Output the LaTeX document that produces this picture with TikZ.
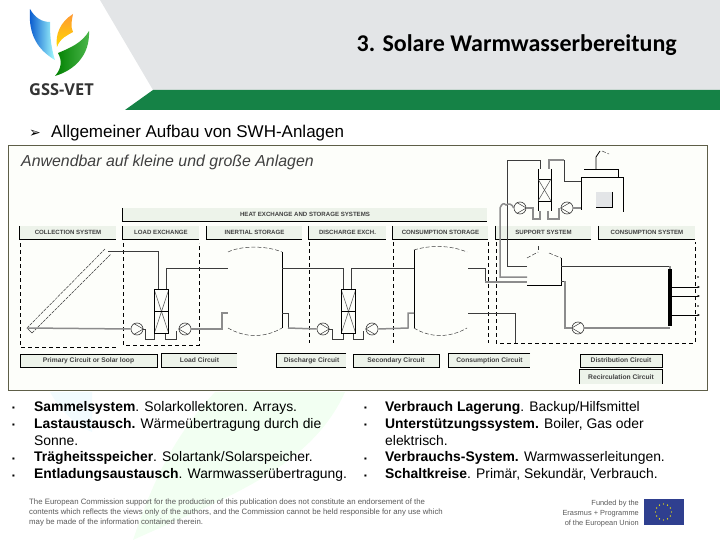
\documentclass[tikz,border=0pt]{standalone}
\usetikzlibrary{arrows.meta}
\usepackage{fontspec}
\setmainfont{Liberation Sans}
\newfontfamily\titlefont{Carlito}
\newfontfamily\logofont{Open Sans}
\newfontfamily\symfont{DejaVu Sans}
\definecolor{headgray}{HTML}{E3E5E7}
\definecolor{headgreen}{HTML}{158246}
\definecolor{boxline}{HTML}{5E5E48}
\definecolor{boxfill}{HTML}{FDFEFA}
\definecolor{labelfill}{HTML}{EDF3EA}
\definecolor{pipedark}{HTML}{3C3C3C}
\definecolor{pipegray}{HTML}{8C8C8C}
\definecolor{euflag}{HTML}{2F3F8F}
\tikzset{
  head/.style={fill=labelfill, inner sep=0pt, minimum height=13pt, text=black!75,
    text height=5pt, text depth=1pt, font=\fontsize{6.1}{6}\selectfont\bfseries},
  circ/.style={head, font=\fontsize{6.7}{7}\selectfont\bfseries},
  foot/.style={circ, draw=black, line width=.7pt},
  pipe/.style={draw=pipedark, line width=1pt},
  pipeg/.style={draw=pipegray, line width=1.5pt},
  wall/.style={draw=black, line width=.8pt},
  dashline/.style={draw=black, line width=.9pt, dash pattern=on 4pt off 3pt},
  roof/.style={draw=pipedark, line width=.5pt, dash pattern=on 4pt off 2pt},
  pump/.style={circle, draw=pipedark, line width=.6pt, fill=boxfill, minimum size=12pt, inner sep=0pt},
  hx/.style={rectangle, minimum width=14pt, minimum height=43pt, inner sep=0pt},
  bul/.style={anchor=base west, inner sep=0pt, font=\fontsize{13.9}{14}\selectfont},
  small/.style={inner sep=0pt, text=black!65, font=\fontsize{7.8}{8}\selectfont},
  fund/.style={small, font=\fontsize{7.4}{8}\selectfont}
}
\begin{document}
\begin{tikzpicture}[x=1pt,y=-1pt]
  \useasboundingbox (0,0) rectangle (720,540);
  % header
  \fill[headgray] (100,0) -- (153,90) -- (720,90) -- (720,0) -- cycle;
  \fill[headgreen] (153,90) -- (125,110) -- (720,110) -- (720,90) -- cycle;
  \node[anchor=base east, inner sep=0pt, font=\titlefont\fontsize{24}{24}\selectfont\bfseries] (title) at (677,52) {3. Solare Warmwasserbereitung};
  % logo
  \shade[left color=blue!60!cyan!80!black, right color=cyan!35] (30,9) .. controls (28,35) and (38,50) .. (55,60) .. controls (50,45) and (50,30) .. (50,22) .. controls (42,22) and (35,18) .. (30,9);
  \shade[bottom color=yellow!70!orange, top color=orange!80] (73,14) .. controls (60,22) and (55,35) .. (57,47) .. controls (60,38) and (68,35) .. (73,32) .. controls (70,26) and (72,20) .. (73,14);
  \shade[left color=green!50!black, right color=green!60!black!70] (89,31) .. controls (82,43) and (70,48) .. (58,53) .. controls (62,60) and (62,68) .. (55,76) .. controls (75,70) and (90,55) .. (89,31);
  \node[anchor=base west, inner sep=0pt, font=\logofont\fontsize{16.4}{17}\selectfont\bfseries, text=black!80] (gss) at (29,96) {GSS-VET};
  % watermark
  \fill[green!5] (345,392) .. controls (310,470) and (220,500) .. (133,540) .. controls (150,490) and (170,440) .. (215,392) -- cycle;
  \fill[cyan!5] (50,392) .. controls (60,410) and (75,425) .. (92,432) -- (92,392) -- cycle;
  % heading
  \node[anchor=base west, inner sep=0pt, font=\symfont\fontsize{14}{14}\selectfont] (arrow) at (29,138) {➢};
  \node[anchor=base west, inner sep=0pt, font=\fontsize{17}{17}\selectfont] (heading) at (51,138) {Allgemeiner Aufbau von SWH-Anlagen};
  % frame
  \node[draw=boxline, line width=.9pt, fill=boxfill, minimum width=699pt, minimum height=245pt, inner sep=0pt] (frame) at (357.5,267.5) {};
  \node[anchor=base west, inner sep=0pt, text=black!75, font=\fontsize{15.9}{16}\selectfont\itshape] (subhead) at (21,166.5) {Anwendbar auf kleine und große Anlagen};
  % labels over the columns
  \node[head, minimum width=364pt] (band) at (305,214.5) {HEAT EXCHANGE AND STORAGE SYSTEMS};
  \node[head, minimum width=96pt] (collect) at (68,232.5) {COLLECTION SYSTEM};
  \node[head, minimum width=76pt] (loadex) at (161,232.5) {LOAD EXCHANGE};
  \node[head, minimum width=95pt] (inert) at (254.5,232.5) {INERTIAL STORAGE};
  \node[head, minimum width=77pt] (dischex) at (347.5,232.5) {DISCHARGE EXCH.};
  \node[head, minimum width=95pt] (consstor) at (440.5,232.5) {CONSUMPTION STORAGE};
  \node[head, minimum width=95pt] (support) at (543.5,232.5) {SUPPORT SYSTEM};
  \node[head, minimum width=96pt] (conssys) at (647,232.5) {CONSUMPTION SYSTEM};
  \foreach \n in {band,collect,loadex,inert,dischex,consstor,support,conssys}
    \draw[wall] (\n.north west) -- (\n.south west) -- (\n.south east);
  % circuit labels
  \node[foot, minimum width=137pt] (primary) at (88.5,360.5) {Primary Circuit or Solar loop};
  \node[circ, minimum width=75pt] (loadc) at (199.5,360.5) {Load Circuit};
  \node[circ, minimum width=69pt] (dischc) at (311.5,360.5) {Discharge Circuit};
  \node[foot, minimum width=86pt] (second) at (396,360.5) {Secondary Circuit};
  \node[circ, minimum width=81pt] (consc) at (489.5,360.5) {Consumption Circuit};
  \node[foot, minimum width=82pt] (distr) at (621,360.5) {Distribution Circuit};
  \node[circ, minimum width=82pt, minimum height=14pt] (recirc) at (621,377) {Recirculation Circuit};
  \foreach \n in {loadc,dischc,consc}
    \draw[wall] (\n.north east) -- (\n.north west) -- (\n.south west) -- (\n.south east);
  \draw[wall] (recirc.south west) -- (recirc.north west) -- (recirc.north east) -- (recirc.south east);
  % dashed zones
  \draw[dashline] (20,243) -- (20,347) -- (116,347);
  \draw[dashline] (123,243) -- (123,345) -- (199,345) -- (199,243);
  \draw[dashline] (309.5,242) -- (309.5,343);
  \draw[dashline] (393,242) -- (393,343);
  \draw[dashline] (488,242) -- (488,343);
  \draw[dashline] (496,242) -- (496,343) -- (695,343) -- (695,242);
  % exchangers and pumps
  \node[hx] (hxa) at (161.5,311.5) {};
  \node[hx] (hxb) at (348.5,311.5) {};
  \node[pump] (pa) at (137,329) {};
  \node[pump] (pb) at (185,329) {};
  \node[pump] (pc) at (323,329) {};
  \node[pump] (pd) at (372,329) {};
  \node[pump] (pe) at (520,208) {};
  \node[pump] (pf) at (567,208) {};
  \node[pump] (pg) at (578,328) {};
  \coordinate (colltop) at (108,251);
  \coordinate (collend) at (27,328);
  % collector
  \draw[draw=pipedark, line width=.5pt, dash pattern=on 3pt off 1pt] (collend) -- (105,249);
  \draw[draw=pipedark, line width=.5pt, dash pattern=on 3pt off 1pt] (32,333) -- (111,254);
  \draw[draw=pipedark, line width=.7pt] (collend) -- (32,333);
  % load circuit
  \draw[pipe] (colltop) -| (158,290);
  \draw[pipe] (166,290) |- (228,268);
  \draw[pipeg] (collend) -- (pa.west);
  \draw[pipe] (pa.east) -- (145,329) |- (154,339) -- (154,333);
  \draw[pipe] (165,333) |- (176,339) -- (176,331);
  \draw[pipeg] (pb.east) -- (222,329) |- (228,313);
  % storage tanks
  \draw[roof] (228,252) .. controls (240,246) and (265,245) .. (282,252);
  \draw[roof] (228,328) .. controls (245,338) and (265,338) .. (282,328);
  \draw[wall] (282,252) -- (282,328);
  \draw[roof] (414,250) .. controls (430,245) and (450,245) .. (467,252);
  \draw[roof] (414,328) .. controls (430,338) and (450,338) .. (467,328);
  \draw[wall] (414,250) -- (414,328);
  % secondary circuit
  \draw[pipe] (282,268) -| (343,290);
  \draw[pipe] (351,290) |- (414,268);
  \draw[pipe] (282,313) -| (288,328);
  \draw[pipeg] (288,328) -- (pc.west);
  \draw[pipe] (pc.east) -- (332,329) |- (343,339) -- (343,333);
  \draw[pipe] (353,333) |- (363,339) -- (363,331);
  \draw[pipeg] (pd.east) -- (408,328) |- (414,313);
  \foreach \n in {hxa,hxb} {
    \draw[black!70, line width=.5pt] (\n.north west) -- (\n.south east);
    \draw[black!70, line width=.5pt] (\n.north east) -- (\n.south west);
    \draw[wall, line width=1pt] (\n.north west) rectangle (\n.south east);
    \draw[wall, line width=1pt] (\n.west) -- (\n.east);
  }
  \foreach \n/\p/\q/\r in {pa/120/0/240,pb/60/180/300,pc/120/0/240,pd/60/180/300,pe/120/0/240,pf/60/180/300,pg/60/180/300}
    \draw[pipedark, line width=.5pt] (\n.\p) -- (\n.\q) -- (\n.\r);
  % support system
  \draw[pipe] (527,266) -| (507,161) -| (540,169);
  \draw[pipeg] (549,169) |- (564,160);
  \draw[pipe] (564,160) |- (581,182);
  \draw[pipeg] (527,277) -| (500,208) .. controls (502,203) and (504,203) .. (506,205) .. controls (509,203) and (512,204) .. (pe.west);
  \draw[pipeg] (pe.east) -- (533,208) |- (540,219) -- (540,211);
  \draw[pipeg] (548,211) |- (559,219) -- (559,208);
  \draw[pipeg] (pf.east) -- (581,208);
  \draw[wall] (538,169) -- (538,211);
  \draw[wall] (551,169) -- (551,211);
  \draw[wall] (538,179) -- (551,179);
  \draw[wall] (538,201) -- (551,201);
  \draw[black!70, line width=.5pt] (538,179) -- (551,201);
  \draw[black!70, line width=.5pt] (551,179) -- (538,201);
  % boiler
  \draw[wall] (581,210) |- (623,177) -- (623,212);
  \draw[fill=headgray, draw=none] (596,192) rectangle (612,207);
  \draw[wall] (612,192) |- (596,207);
  \draw[wall] (584,169) -| (618,177);
  \draw[wall] (596,169) -- (596,157) -- (600,151);
  \draw[roof] (602,151) -- (609,154);
  % consumption storage
  \draw[pipe] (468,268) -| (485,282);
  \draw[pipeg] (485,282) -- (527,282);
  \draw[pipe] (468,313) -| (515,343);
  \draw[roof] (538,246) -- (538,252);
  \draw[roof] (527,258) -- (538,252);
  \draw[roof] (549,253) -- (561,258);
  \draw[wall] (561,258) -- (561,285) -- (527,285);
  % distribution
  \draw[pipe] (561,266) -- (670,266);
  \draw[pipeg] (670,266) -- (670,269);
  \draw[pipe] (561,281) -- (565,281);
  \draw[pipeg] (565,281) |- (pg.west);
  \draw[pipeg] (pg.east) -- (670,328);
  \node[fill=black, minimum width=4pt, minimum height=57pt, inner sep=0pt] (bar) at (670,297.5) {};
  \foreach \y in {287,296,315}
    \draw[-{Latex[length=2.5pt,width=2.5pt]}, line width=.7pt] (671,\y) -- (700,\y);
  \foreach \y in {277,306}
    \fill (698,\y) circle (.9pt);
  % bullets
  \foreach \x/\y in {12/410,12/427,12/461,12/478,364/410,364/427,364/461,364/478}
    \node[bul, font=\fontsize{8}{8}\selectfont] at (\x,\y) {▪};
  \node[bul] (ta) at (34,411.5) {\textbf{Sammelsystem}. Solarkollektoren. Arrays.};
  \node[bul] (tb) at (34,428) {\textbf{Lastaustausch.} Wärmeübertragung durch die};
  \node[bul] (tc) at (34,445) {Sonne.};
  \node[bul] (td) at (34,461.5) {\textbf{Trägheitsspeicher}. Solartank/Solarspeicher.};
  \node[bul] (te) at (34,478) {\textbf{Entladungsaustausch}. Warmwasserübertragung.};
  \node[bul] (tf) at (385,411.5) {\textbf{Verbrauch Lagerung}. Backup/Hilfsmittel};
  \node[bul] (tg) at (385,428) {\textbf{Unterstützungssystem.} Boiler, Gas oder};
  \node[bul] (th) at (385,445) {elektrisch.};
  \node[bul] (ti) at (385,461.5) {\textbf{Verbrauchs-System.} Warmwasserleitungen.};
  \node[bul] (tj) at (385,478) {\textbf{Schaltkreise}. Primär, Sekundär, Verbrauch.};
  % footer
  \node[small, anchor=base west] (fa) at (29,504.5) {The European Commission support for the production of this publication does not constitute an endorsement of the};
  \node[small, anchor=base west] (fb) at (29,514.5) {contents which reflects the views only of the authors, and the Commission cannot be held responsible for any use which};
  \node[small, anchor=base west] (fc) at (29,524) {may be made of the information contained therein.};
  \node[fund, anchor=base east] (fd) at (639,505) {Funded by the};
  \node[fund, anchor=base east] (fe) at (639,515) {Erasmus + Programme};
  \node[fund, anchor=base east] (ff) at (639,525) {of the European Union};
  \node[fill=euflag, minimum width=40pt, minimum height=26pt, inner sep=0pt] (flag) at (663.5,512) {};
  \foreach \a in {0,30,...,330}
    \fill[yellow] (flag.center) ++(\a:8pt) circle (.7pt);
\end{tikzpicture}
\end{document}
